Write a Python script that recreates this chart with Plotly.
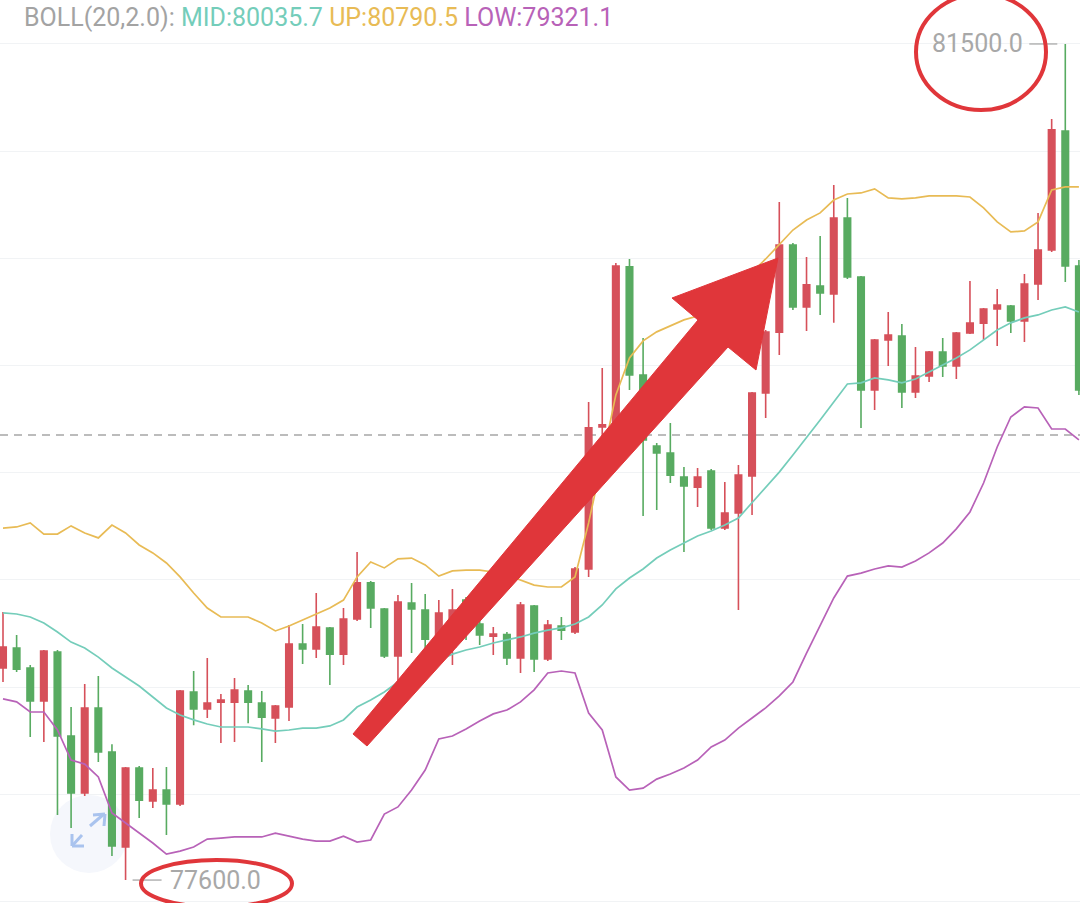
import plotly.graph_objects as go

W, H = 1080, 903

# ---- data (price units) ----
opens = [78589, 78682, 78589, 78435, 78664, 78272, 78006, 78402, 78197, 77754,
         78123, 77969, 78020, 77955, 78477, 78398, 78430, 78430, 78482, 78426,
         78356, 78407, 78701, 78678, 78776, 78654, 78818, 78986, 78864, 78645,
         78892, 78860, 78740, 78687, 78906, 78794, 78738, 78745, 78636, 78878,
         78631, 78785, 78757, 79051, 79713, 79723, 80460, 79956, 79625, 79592,
         79480, 79433, 79508, 79242, 79312, 79485, 79872, 80156, 80562, 80273,
         80371, 80334, 80688, 80413, 79886, 80119, 80138, 79877, 79951, 80063,
         79998, 80152, 80198, 80264, 80278, 80208, 80380, 80539, 81094, 80464]
highs = [78850, 78743, 78603, 78673, 78673, 78407, 78514, 78552, 78234, 78127,
         78132, 78123, 78127, 78486, 78575, 78636, 78468, 78542, 78510, 78482,
         78416, 78790, 78794, 78939, 78780, 78869, 79130, 78995, 78869, 78930,
         78986, 78934, 78906, 78958, 78920, 78850, 78780, 78757, 78897, 78883,
         78813, 78827, 79060, 79830, 79989, 80478, 80497, 80128, 79639, 79732,
         79527, 79522, 79517, 79457, 79536, 79877, 80166, 80763, 80572, 80506,
         80604, 80842, 80782, 80418, 80124, 80250, 80194, 80086, 80068, 80128,
         80156, 80394, 80268, 80357, 80282, 80427, 80712, 81150, 81500, 80492]
lows = [78524, 78570, 78267, 78244, 77903, 77843, 77992, 78151, 77712, 77600,
        77889, 77936, 77810, 77945, 78322, 78356, 78239, 78244, 78332, 78151,
        78239, 78342, 78608, 78636, 78510, 78603, 78808, 78776, 78636, 78533,
        78659, 78673, 78696, 78603, 78720, 78696, 78650, 78603, 78566, 78570,
        78622, 78720, 78748, 79014, 79653, 79699, 79886, 79298, 79326, 79452,
        79130, 79340, 79233, 79233, 78860, 79303, 79755, 80049, 80259, 80161,
        80236, 80199, 80404, 79709, 79793, 79998, 79802, 79849, 79923, 79947,
        79937, 80147, 80119, 80091, 80152, 80110, 80306, 80530, 80390, 79863]
closes = [78687, 78584, 78435, 78668, 78272, 78006, 78402, 78197, 77759, 78123,
          77973, 78020, 77955, 78482, 78398, 78426, 78440, 78486, 78430, 78360,
          78412, 78701, 78678, 78780, 78654, 78818, 78986, 78869, 78645, 78897,
          78864, 78724, 78846, 78860, 78790, 78743, 78748, 78636, 78883, 78631,
          78790, 78766, 79051, 79709, 79723, 80464, 79956, 79653, 79592, 79489,
          79438, 79480, 79242, 79312, 79489, 79872, 80156, 80562, 80273, 80376,
          80338, 80688, 80413, 79886, 80119, 80142, 79877, 79951, 80063, 79998,
          80152, 80198, 80264, 80282, 80208, 80380, 80539, 81099, 80464, 79886]

boll_up = [79242, 79247, 79266, 79214, 79214, 79252, 79219, 79196, 79256, 79219,
           79163, 79126, 79079, 79014, 78939, 78869, 78827, 78827, 78827, 78799,
           78762, 78785, 78813, 78841, 78869, 78906, 79014, 79084, 79056, 79098,
           79102, 79070, 79018, 79042, 79046, 79046, 79037, 79023, 79000, 78976,
           78967, 78967, 79014, 79266, 79559, 79863, 80035, 80115, 80157, 80185,
           80213, 80231, 80278, 80324, 80380, 80436, 80497, 80562, 80632, 80679,
           80712, 80772, 80800, 80805, 80824, 80782, 80777, 80782, 80791, 80791,
           80791, 80786, 80735, 80670, 80623, 80628, 80670, 80819, 80833, 80833]
boll_mid = [78846, 78841, 78827, 78799, 78757, 78710, 78682, 78640, 78589, 78547,
            78505, 78454, 78403, 78370, 78347, 78328, 78314, 78314, 78314, 78305,
            78295, 78300, 78309, 78309, 78319, 78347, 78407, 78440, 78477, 78524,
            78561, 78594, 78626, 78654, 78673, 78687, 78706, 78720, 78734, 78752,
            78766, 78776, 78794, 78827, 78883, 78958, 79009, 79051, 79102, 79140,
            79172, 79205, 79228, 79256, 79289, 79359, 79429, 79503, 79583, 79662,
            79746, 79830, 79914, 79919, 79942, 79933, 79919, 79937, 79970, 80003,
            80035, 80073, 80119, 80166, 80199, 80222, 80236, 80259, 80273, 80250]
boll_low = [78445, 78431, 78384, 78384, 78300, 78160, 78141, 78081, 77913, 77866,
            77819, 77773, 77721, 77735, 77754, 77791, 77796, 77801, 77801, 77801,
            77819, 77805, 77791, 77782, 77782, 77805, 77777, 77787, 77908, 77941,
            78020, 78113, 78258, 78272, 78305, 78342, 78375, 78393, 78431, 78487,
            78566, 78575, 78566, 78379, 78300, 78081, 78020, 78029, 78071, 78095,
            78123, 78160, 78221, 78253, 78309, 78356, 78403, 78459, 78524, 78659,
            78790, 78916, 79018, 79032, 79051, 79065, 79060, 79088, 79126, 79172,
            79238, 79317, 79452, 79620, 79760, 79807, 79802, 79704, 79704, 79653]

boll_label = "BOLL(20,2.0):"
mid_value, up_value, low_value = 80035.7, 80790.5, 79321.1
last_price = 79676

x_idx = list(range(len(opens)))

RED = "#D6505A"
GREEN = "#58AB61"
C_UP = "#E8BB55"
C_MID = "#74CDBA"
C_LOW = "#B862B8"
MARK = "#E0363A"

fig = go.Figure()

fig.add_trace(go.Candlestick(
    x=x_idx, open=opens, high=highs, low=lows, close=closes,
    increasing=dict(line=dict(color=RED, width=1.6), fillcolor=RED),
    decreasing=dict(line=dict(color=GREEN, width=1.6), fillcolor=GREEN),
    whiskerwidth=0, showlegend=False, hoverinfo="skip",
))
for vals, col in ((boll_up, C_UP), (boll_mid, C_MID), (boll_low, C_LOW)):
    fig.add_trace(go.Scatter(x=x_idx, y=vals, mode="lines",
                             line=dict(color=col, width=1.7),
                             showlegend=False, hoverinfo="skip"))

def px(x):
    return x / W

def py(y):
    return 1 - y / H

shapes = []
# last price dashed line
shapes.append(dict(type="line", xref="paper", yref="y", x0=0, x1=1,
                   y0=last_price, y1=last_price, layer="below",
                   line=dict(color="#A6A6A6", width=1.5, dash="8px,6px")))

# max / min markers
i_max = max(x_idx, key=lambda i: highs[i])
i_min = min(x_idx, key=lambda i: lows[i])
shapes.append(dict(type="line", xref="x", yref="y", xsizemode="pixel", xanchor=i_max,
                   x0=-36, x1=-8, y0=highs[i_max], y1=highs[i_max],
                   line=dict(color="#B3B3B3", width=1.5)))
shapes.append(dict(type="line", xref="x", yref="y", xsizemode="pixel", xanchor=i_min,
                   x0=7, x1=36, y0=lows[i_min], y1=lows[i_min],
                   line=dict(color="#B3B3B3", width=1.5)))

# expand icon (bottom-left): faint disc behind the candles, arrows on top
shapes.append(dict(type="circle", xref="paper", yref="paper",
                   x0=px(50), x1=px(128), y0=py(873), y1=py(795),
                   fillcolor="#F5F7FC", line=dict(width=0), layer="below"))
ic = "#A9C3EE"
for (xa, ya, xb, yb) in ((90, 826, 104, 814), (93, 815, 105, 814), (105, 814, 104, 826),
                         (82, 835, 72, 846), (72, 834, 72, 846), (72, 846, 84, 846)):
    shapes.append(dict(type="line", xref="paper", yref="paper",
                       x0=px(xa), y0=py(ya), x1=px(xb), y1=py(yb),
                       line=dict(color=ic, width=3), layer="above"))

# hand-drawn red highlights
shapes.append(dict(type="circle", xref="paper", yref="paper",
                   x0=px(916), x1=px(1046), y0=py(110), y1=py(-6),
                   line=dict(color=MARK, width=4), layer="above"))
shapes.append(dict(type="circle", xref="paper", yref="paper",
                   x0=px(141), x1=px(292), y0=py(907), y1=py(860),
                   line=dict(color=MARK, width=4), layer="above"))
arrow_pts = [(353, 734), (698, 320), (672, 298), (778, 258), (756, 370), (728, 347), (367, 746)]
path = "M " + " L ".join(f"{px(a):.5f},{py(b):.5f}" for a, b in arrow_pts) + " Z"
shapes.append(dict(type="path", xref="paper", yref="paper", path=path,
                   fillcolor=MARK, line=dict(color=MARK, width=1), layer="above"))

annotations = [
    dict(xref="paper", yref="paper", x=px(22), y=py(1), xanchor="left", yanchor="top",
         showarrow=False, font=dict(family="Roboto", size=25, color="#A3A3A3"),
         text=(f"<span style='color:#A3A3A3'>{boll_label}</span> "
               f"<span style='color:{C_MID}'>MID:{mid_value}</span> "
               f"<span style='color:{C_UP}'>UP:{up_value}</span> "
               f"<span style='color:{C_LOW}'>LOW:{low_value}</span>")),
    dict(xref="x", yref="y", x=i_max, y=highs[i_max], xshift=-40, xanchor="right",
         yanchor="middle", showarrow=False,
         font=dict(family="Roboto", size=25, color="#A8A8A8"),
         text=f"{highs[i_max]:.1f}"),
    dict(xref="x", yref="y", x=i_min, y=lows[i_min], xshift=42, xanchor="left",
         yanchor="middle", showarrow=False,
         font=dict(family="Roboto", size=25, color="#A8A8A8"),
         text=f"{lows[i_min]:.1f}"),
]

fig.update_layout(
    width=W, height=H, margin=dict(l=0, r=0, t=0, b=0),
    paper_bgcolor="white", plot_bgcolor="white",
    shapes=shapes, annotations=annotations, showlegend=False,
    boxgap=0.32,
    xaxis=dict(range=[-0.22, 79.08], showgrid=False, zeroline=False,
               showticklabels=False, showline=False, rangeslider=dict(visible=False),
               fixedrange=True),
    yaxis=dict(range=[77493, 81705], showgrid=True, gridcolor="#F1F3F5", gridwidth=1,
               tickmode="linear", tick0=0, dtick=500, zeroline=False,
               showticklabels=False, showline=False, fixedrange=True),
)

fig.write_html("out.html", config={"displayModeBar": False},
               post_script="document.body.style.margin='0';")
